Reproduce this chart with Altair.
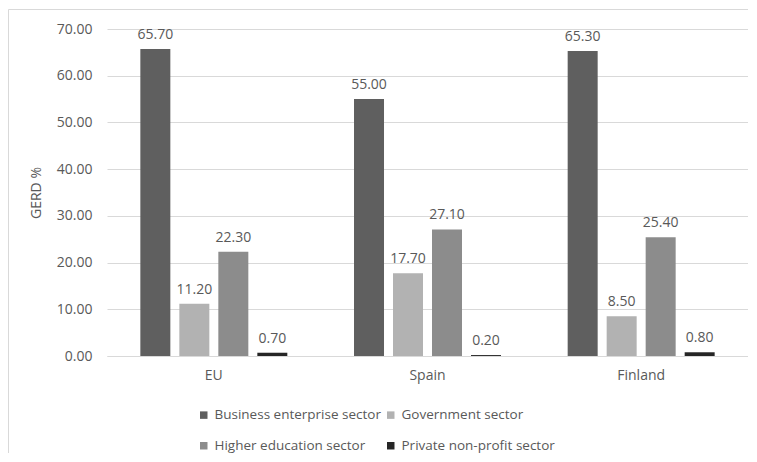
import altair as alt
import pandas as pd

regions = ["EU", "Spain", "Finland"]
sectors = ["Business enterprise sector", "Government sector",
           "Higher education sector", "Private non-profit sector"]
values = {
    "EU": [65.70, 11.20, 22.30, 0.70],
    "Spain": [55.00, 17.70, 27.10, 0.20],
    "Finland": [65.30, 8.50, 25.40, 0.80],
}
colors = ["#5f5f5f", "#b2b2b2", "#8c8c8c", "#262626"]
y_ticks = [0, 10, 20, 30, 40, 50, 60, 70]
# legend lays out column by column: this order gives rows
# (Business, Government) and (Higher, Private)
legend_order = [sectors[0], sectors[2], sectors[1], sectors[3]]
legend_colors = [colors[0], colors[2], colors[1], colors[3]]

rows = []
for r in regions:
    for s, v in zip(sectors, values[r]):
        rows.append({"Region": r, "Sector": s, "Value": v})
df = pd.DataFrame(rows)

FONT = "Open Sans"
TXT = "#595959"

x_enc = alt.X("Region:N", sort=regions, title=None,
              scale=alt.Scale(paddingInner=0, paddingOuter=0),
              axis=alt.Axis(labelAngle=0, labelPadding=12, ticks=False,
                            domainColor="#d9d9d9", labelFontSize=14,
                            labelColor=TXT, labelFont=FONT))
xo_enc = alt.XOffset("Sector:N", sort=sectors,
                     scale=alt.Scale(paddingInner=0.2308, paddingOuter=0.855))

bars = alt.Chart(df).mark_bar().encode(
    x=x_enc,
    xOffset=xo_enc,
    y=alt.Y("Value:Q", title="GERD %",
            scale=alt.Scale(domain=[0, 70], nice=False),
            axis=alt.Axis(values=y_ticks, format=".2f", domain=False, ticks=False,
                          gridColor="#d9d9d9", labelPadding=15, labelFontSize=14,
                          labelColor=TXT, labelFont=FONT, titleFont=FONT,
                          titleFontSize=14, titleColor=TXT, titleFontWeight="normal",
                          titlePadding=13)),
    color=alt.Color("Sector:N",
                    scale=alt.Scale(domain=legend_order, range=legend_colors),
                    legend=alt.Legend(title=None, orient="none", legendX=90, legendY=379,
                                      columns=2, columnPadding=3, rowPadding=16,
                                      symbolType="square", symbolSize=56,
                                      symbolStrokeWidth=0, labelFontSize=13.5,
                                      labelLimit=0,
                                      labelColor=TXT, labelFont=FONT, labelOffset=4)),
)

labels = alt.Chart(df).mark_text(dy=-7, baseline="bottom", fontSize=14,
                                 font=FONT, color=TXT).encode(
    x=alt.X("Region:N", sort=regions),
    xOffset=alt.XOffset("Sector:N", sort=sectors),
    y="Value:Q",
    text=alt.Text("Value:Q", format=".2f"),
)

border = alt.Chart(pd.DataFrame({"a": [0]})).mark_rect(
    fill=None, stroke="#d9d9d9", strokeWidth=1, clip=False
).encode(
    x=alt.value(-98.5), x2=alt.value(900),
    y=alt.value(-19.5), y2=alt.value(700),
)

chart = alt.layer(border, bars, labels).properties(
    width=641, height=327,
    autosize=alt.AutoSizeParams(type="none"),
    padding={"left": 99, "top": 21, "right": 0, "bottom": 97},
).configure_view(stroke=None)

chart.save("out.html", embed_options={"renderer": "svg", "actions": False})
